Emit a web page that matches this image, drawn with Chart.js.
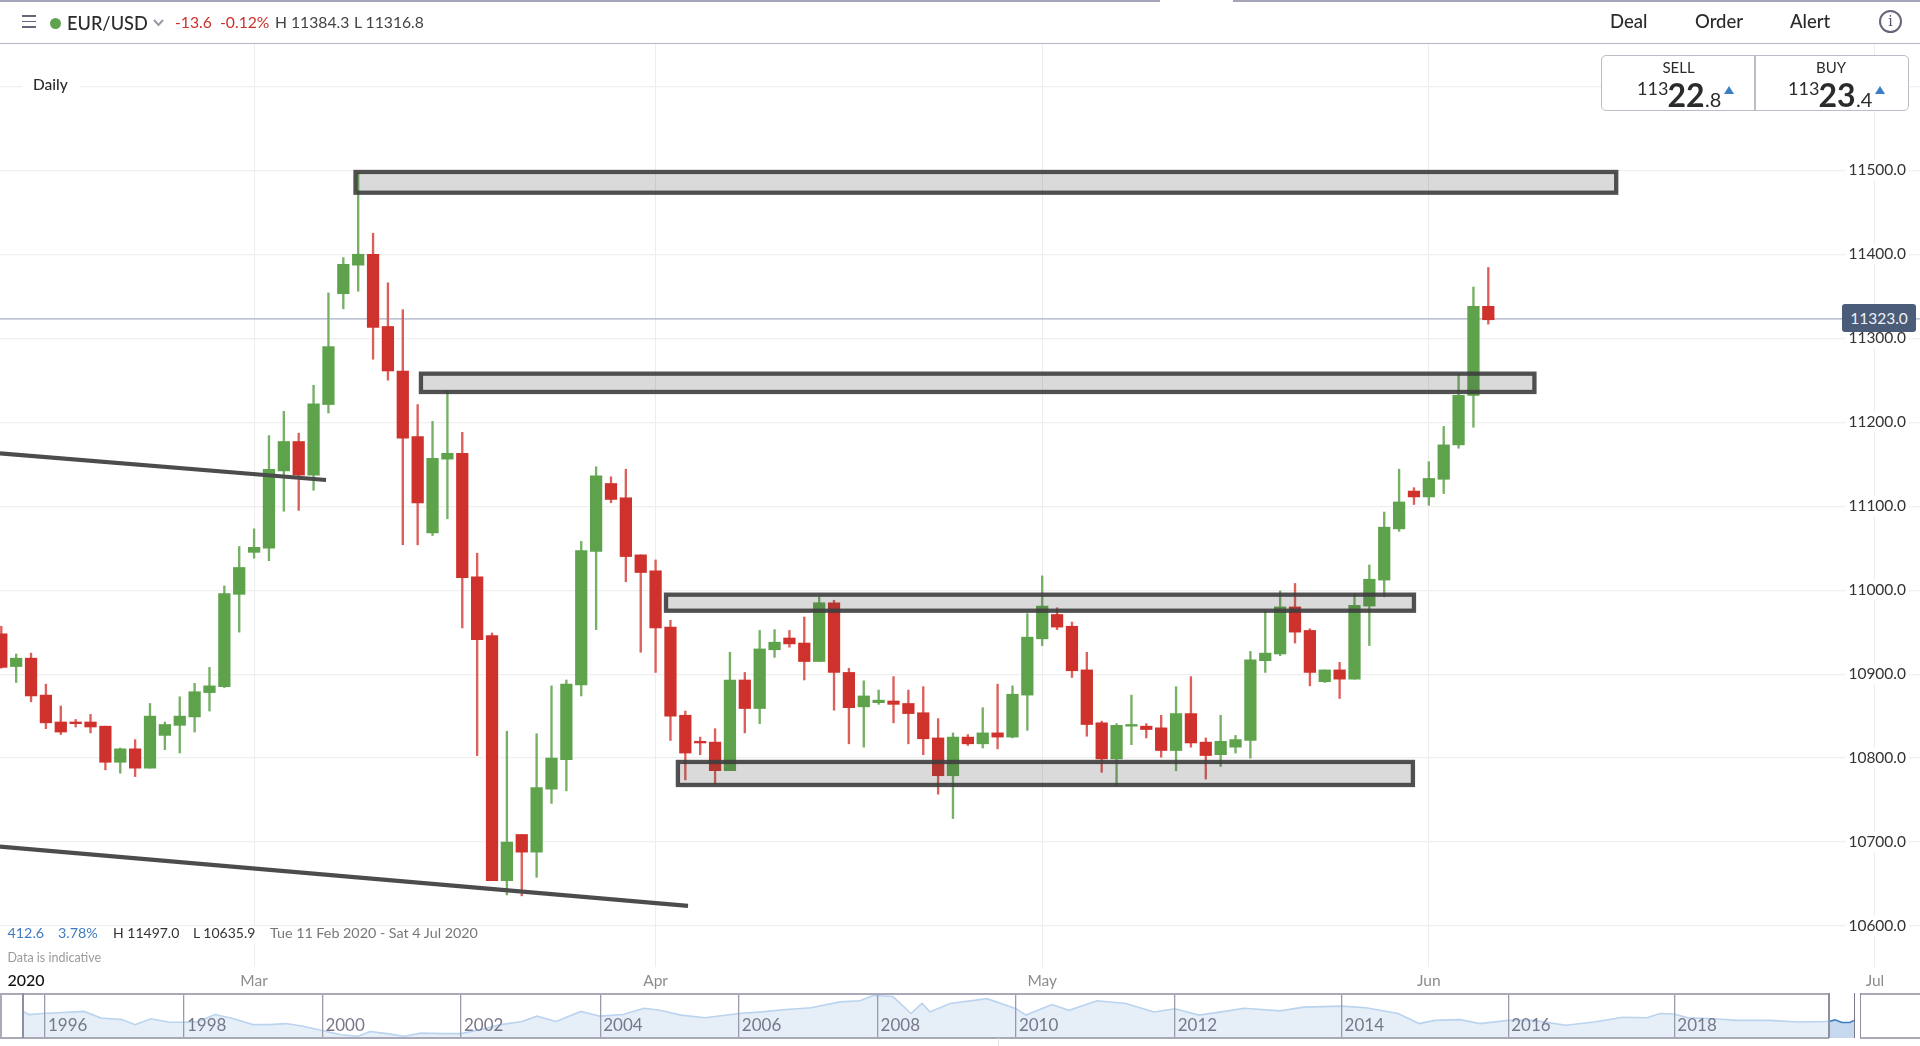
<!DOCTYPE html>
<html>
<head>
<meta charset="utf-8">
<title>EUR/USD Daily</title>
<script src="https://cdn.jsdelivr.net/npm/chart.js@4/dist/chart.umd.min.js"></script>
<style>
html,body{margin:0;padding:0;background:#fff;width:1920px;height:1046px;overflow:hidden;font-family:Lato,sans-serif;color:#2b2b2b}
canvas{position:absolute;left:0}
#main{top:0}
#nav{top:994px}
.t{position:absolute;white-space:nowrap;line-height:1}
.b{position:absolute}
</style>
</head>
<body>
<canvas id="main" width="1920" height="1046"></canvas>
<canvas id="nav" width="1920" height="44"></canvas>

<!-- header -->
<div class="b" style="left:0;top:0;width:1160px;height:2px;background:#a4a4ba"></div>
<div class="b" style="left:1233px;top:0;width:687px;height:2px;background:#a4a4ba"></div>
<div class="b" style="left:0;top:42.5px;width:1920px;height:1.5px;background:#b7b7c2"></div>
<div class="b" style="left:22px;top:15px;width:14px;height:1.5px;background:#66667a"></div>
<div class="b" style="left:22px;top:20.5px;width:14px;height:1.5px;background:#66667a"></div>
<div class="b" style="left:22px;top:26px;width:14px;height:1.5px;background:#66667a"></div>
<div class="b" style="left:49.5px;top:18px;width:11px;height:11px;border-radius:50%;background:#5ea34d"></div>
<div class="t" style="left:67px;top:13.5px;font-size:18.2px;font-weight:500">EUR/USD</div>
<svg class="b" style="left:153px;top:18px" width="11" height="9"><path d="M1 2 L5.5 7 L10 2" fill="none" stroke="#9a9aa8" stroke-width="2"/></svg>
<div class="t" style="left:175px;top:15px;font-size:15.7px;color:#c9322b">-13.6</div>
<div class="t" style="left:220px;top:15px;font-size:15.7px;color:#c9322b">-0.12%</div>
<div class="t" style="left:275px;top:15px;font-size:15.7px;color:#444">H 11384.3</div>
<div class="t" style="left:354px;top:15px;font-size:15.7px;color:#444">L 11316.8</div>
<div class="t" style="left:1610px;top:12px;font-size:18.5px;font-weight:500">Deal</div>
<div class="t" style="left:1695px;top:12px;font-size:18.5px;font-weight:500">Order</div>
<div class="t" style="left:1790px;top:12px;font-size:18.5px;font-weight:500">Alert</div>
<div class="t" style="left:1879px;top:10px;width:19px;height:19px;border:2px solid #66667a;border-radius:50%;text-align:center;font-family:'DejaVu Serif',serif;font-size:14px;line-height:19px;color:#55556a">i</div>

<div class="t" style="left:22px;top:76px;width:58px;height:18px;background:#fff"></div>
<div class="t" style="left:33px;top:77px;font-size:15.5px;font-weight:500">Daily</div>

<!-- sell / buy -->
<div class="b" style="left:1601px;top:55px;width:306px;height:54px;background:#fff;border:1.5px solid #bcbcc6;border-radius:5px"></div>
<div class="b" style="left:1754px;top:56px;width:2px;height:54px;background:#bcbcc6"></div>
<div class="t" style="left:1602px;width:153px;text-align:center;top:60px;font-size:15px">SELL</div>
<div class="t" style="left:1756px;width:150px;text-align:center;top:60px;font-size:15px">BUY</div>
<div class="t" style="left:1637px;top:79px;font-size:18px">113</div>
<div class="t" style="left:1667.5px;top:79px;font-size:32px;font-weight:700">22</div>
<div class="t" style="left:1705px;top:89px;font-size:20px">.8</div>
<div class="b" style="left:1723.5px;top:86px;width:0;height:0;border-left:5px solid transparent;border-right:5px solid transparent;border-bottom:8.5px solid #3a7fc1"></div>
<div class="t" style="left:1788px;top:79px;font-size:18px">113</div>
<div class="t" style="left:1818.5px;top:79px;font-size:32px;font-weight:700">23</div>
<div class="t" style="left:1856px;top:89px;font-size:20px">.4</div>
<div class="b" style="left:1875px;top:86px;width:0;height:0;border-left:5px solid transparent;border-right:5px solid transparent;border-bottom:8.5px solid #3a7fc1"></div>

<!-- last price tag -->
<div class="t" style="left:1842px;top:304px;width:74px;height:28px;line-height:28px;background:#4a5c78;border-radius:3px;color:#eef1f6;font-size:15.5px;text-align:center">11323.0</div>

<!-- info row -->
<div class="b" style="left:0;top:926px;width:481px;height:18px;background:#fff"></div>
<div class="t" style="left:7.5px;top:926px;font-size:14.3px;color:#3f7cc0">412.6</div>
<div class="t" style="left:58px;top:926px;font-size:14.3px;color:#3f7cc0">3.78%</div>
<div class="t" style="left:113px;top:926px;font-size:14px;color:#333">H 11497.0</div>
<div class="t" style="left:193px;top:926px;font-size:14px;color:#333">L 10635.9</div>
<div class="t" style="left:270px;top:926px;font-size:14.3px;color:#777">Tue 11 Feb 2020 - Sat 4 Jul 2020</div>
<div class="t" style="left:7.5px;top:952px;font-size:12.5px;color:#9a9a9a">Data is indicative</div>
<div class="t" style="left:7.5px;top:972px;font-size:16px;color:#111;font-weight:500">2020</div>

<!-- navigator frame -->
<div class="b" style="left:0;top:993px;width:1829px;height:1.5px;background:#a9a9b8"></div>
<div class="b" style="left:0;top:1037px;width:1829px;height:1.5px;background:#a9a9b8"></div>
<div class="b" style="left:1860px;top:993px;width:60px;height:1.5px;background:#a9a9b8"></div>
<div class="b" style="left:1860px;top:1037px;width:60px;height:1.5px;background:#a9a9b8"></div>
<div class="b" style="left:0;top:993px;width:1.5px;height:45px;background:#a9a9b8"></div>
<div class="b" style="left:22px;top:993px;width:1.5px;height:45px;background:#8f8fa0"></div>
<div class="b" style="left:1828px;top:993px;width:1.5px;height:45px;background:#8f8fa0"></div>
<div class="b" style="left:1853.5px;top:993px;width:1.5px;height:45px;background:#77778a"></div>
<div class="b" style="left:1859.5px;top:993px;width:1.5px;height:45px;background:#8f8fa0"></div>
<div class="b" style="left:998px;top:1038px;width:1px;height:8px;background:#e2e2e2"></div>

<script>
// Candle index 0 is the first visible session; month starts in the same index units
const monthIndex = [17, 44, 70, 96, 126];
const monthLabels = ['Mar', 'Apr', 'May', 'Jun', 'Jul'];
const priceTicks = [10600, 10700, 10800, 10900, 11000, 11100, 11200, 11300, 11400, 11500, 11600];
const lastPrice = 11323;

const opens = [10948,10909,10919,10875,10843,10843,10843,10838,10795,10811,10788,10827,10839,10849,10878,10885,10995,11045,11050,11142,11177,11137,11221,11353,11387,11400,11314,11261,11183,11068,11156,11163,11016,10946,10654,10709,10688,10763,10798,10887,11046,11127,11110,11042,11023,10956,10851,10820,10819,10785,10893,10859,10929,10943,10937,10915,10985,10902,10861,10866,10868,10865,10854,10824,10779,10825,10817,10830,10825,10875,10942,10971,10957,10905,10842,10799,10838,10838,10836,10809,10853,10819,10804,10813,10821,10916,10924,10980,10952,10891,10905,10894,10981,11012,11073,11118,11111,11132,11173,11232,11338];
const closes = [10908,10919,10874,10842,10831,10841,10837,10795,10811,10788,10850,10840,10850,10879,10886,10996,11027,11051,11144,11177,11137,11222,11290,11388,11400,11313,11261,11181,11104,11157,11163,11015,10941,10654,10700,10688,10765,10800,10888,11047,11136,11108,11040,11021,10955,10850,10806,10818,10785,10893,10859,10930,10938,10936,10915,10985,10902,10860,10874,10869,10864,10853,10823,10779,10825,10817,10830,10825,10876,10944,10981,10956,10904,10840,10799,10839,10840,10834,10809,10853,10818,10803,10820,10822,10917,10925,10980,10950,10902,10905,10894,10982,11013,11075,11105,11111,11133,11173,11232,11338,11322];
const highs = [10957,10924,10925,10888,10862,10846,10852,10838,10812,10822,10865,10843,10873,10889,10908,11005,11052,11073,11184,11213,11187,11244,11354,11396,11497,11425,11366,11334,11221,11201,11237,11188,11044,10949,10832,10709,10829,10886,10893,11058,11147,11135,11144,11042,11036,10964,10856,10825,10835,10926,10902,10952,10953,10952,10968,10992,10988,10907,10892,10881,10897,10881,10885,10847,10830,10828,10860,10888,10886,10972,11017,10979,10962,10926,10844,10841,10875,10841,10851,10885,10897,10824,10851,10827,10927,10975,10999,11008,10954,10905,10914,10996,11030,11093,11144,11122,11153,11195,11257,11361,11384.3];
const lows = [10907,10890,10867,10835,10828,10837,10830,10786,10782,10778,10788,10810,10806,10831,10856,10884,10950,11038,11035,11094,11095,11119,11211,11335,11356,11275,11250,11054,11054,11065,11085,10955,10803,10654,10637,10635.9,10658,10746,10761,10874,10953,11104,11010,10926,10902,10821,10774,10804,10769,10785,10830,10841,10920,10932,10893,10915,10857,10817,10813,10864,10842,10817,10804,10757,10728,10815,10812,10811,10824,10833,10934,10953,10896,10826,10783,10767,10816,10824,10801,10785,10813,10775,10790,10806,10800,10902,10922,10937,10886,10890,10871,10894,10934,10992,11070,11102,11101,11115,11169,11194,11316.8];

// Support / resistance zones: [first index, last index, low, high]
const zoneStart = [23.82, 28.22, 44.7, 45.5];
const zoneEnd = [108.6, 103.1, 95.0, 94.93];
const zoneLow = [11473.3, 11236, 10975.5, 10768];
const zoneHigh = [11498, 11257.8, 10994.6, 10795.4];

// Trend lines
const trendUpperX = [-0.09, 21.84];
const trendUpperY = [11163, 11131.2];
const trendLowerX = [-0.09, 46.18];
const trendLowerY = [10694.5, 10623.9];

// Navigator: history position along the strip and EUR/USD level
const navPos = [23,29,42,63,84,101,122,135,151,168,184,198,215,231,253,269,286,303,322,341,358,370,387,404,421,442,461,480,501,522,537,556,581,600,623,644,660,681,705,739,762,783,811,840,860,873,893,911,922,930,950,987,1016,1026,1052,1069,1097,1126,1154,1175,1199,1228,1244,1280,1304,1342,1366,1398,1419,1435,1460,1480,1508,1533,1566,1594,1623,1647,1660,1674,1688,1713,1737,1770,1798,1829];
const navVal = [1.30,1.24,1.26,1.28,1.30,1.175,1.145,1.05,1.16,1.10,1.095,1.11,1.24,1.175,1.05,1.05,1.07,1.02,0.94,0.86,0.83,0.92,0.88,0.83,0.89,0.88,0.88,0.955,1.05,1.11,1.21,1.11,1.30,1.21,1.24,1.36,1.32,1.23,1.18,1.26,1.29,1.33,1.37,1.48,1.50,1.60,1.58,1.26,1.45,1.29,1.45,1.54,1.35,1.23,1.43,1.32,1.50,1.45,1.29,1.35,1.23,1.31,1.36,1.31,1.38,1.40,1.37,1.26,1.07,1.13,1.145,1.07,1.13,1.13,1.04,1.10,1.19,1.18,1.26,1.25,1.18,1.16,1.13,1.13,1.10,1.11];
const navSelPos = [1829,1835,1842,1850,1854];
const navSelVal = [1.11,1.14,1.09,1.09,1.13];
const navYears = ['1996','1998','2000','2002','2004','2006','2008','2010','2012','2014','2016','2018'];
const navYearPos = [45,184,322.4,461,600.2,738.8,877.6,1015.9,1174.7,1341.6,1508.2,1674.3];

const GREEN = '#5ea34c', RED = '#cf322c', GREEN_W = '#75b065', RED_W = '#dd5f5a';
const xs = opens.map((_, i) => i);
const isUp = i => closes[i] >= opens[i];

const zonesPlugin = {
  id: 'zones',
  afterDatasetsDraw(chart) {
    const { ctx, scales: { x, y } } = chart;
    ctx.save();
    zoneStart.forEach((_, i) => {
      const l = x.getPixelForValue(zoneStart[i]), r = x.getPixelForValue(zoneEnd[i]);
      const t = y.getPixelForValue(zoneHigh[i]), b = y.getPixelForValue(zoneLow[i]);
      ctx.fillStyle = 'rgba(70,70,70,0.2)';
      ctx.fillRect(l, t, r - l, b - t);
      ctx.strokeStyle = 'rgba(62,62,62,0.9)';
      ctx.lineWidth = 4.3;
      ctx.strokeRect(l, t, r - l, b - t);
    });
    ctx.restore();
  }
};

new Chart(document.getElementById('main'), {
  type: 'bar',
  plugins: [zonesPlugin],
  data: {
    datasets: [
      { type: 'line', order: 10, data: [{ x: -0.09, y: lastPrice }, { x: 129.03, y: lastPrice }], borderColor: '#a9afc6', borderWidth: 1.3, pointRadius: 0 },
      { label: 'wick', order: 3, grouped: false, barThickness: 1.7, data: xs.map(i => ({ x: i, y: [lows[i], highs[i]] })),
        backgroundColor: xs.map(i => isUp(i) ? GREEN_W : RED_W) },
      { label: 'body', order: 2, grouped: false, barThickness: 11.6, data: xs.map(i => ({ x: i, y: [opens[i], closes[i]] })),
        backgroundColor: xs.map(i => isUp(i) ? GREEN : RED) },
      { type: 'line', order: 1, data: trendUpperX.map((v, i) => ({ x: v, y: trendUpperY[i] })), borderColor: '#4c4c4c', borderWidth: 4.2, pointRadius: 0 },
      { type: 'line', order: 1, data: trendLowerX.map((v, i) => ({ x: v, y: trendLowerY[i] })), borderColor: '#4c4c4c', borderWidth: 4.2, pointRadius: 0 }
    ]
  },
  options: {
    responsive: false, animation: false, devicePixelRatio: 1,
    layout: { padding: { top: 44, bottom: 53, left: 0, right: 0 } },
    plugins: { legend: { display: false }, tooltip: { enabled: false } },
    scales: {
      x: {
        type: 'linear', min: -0.0874, max: 129.03, offset: false,
        grid: { offset: false, color: '#ededed', lineWidth: 1, drawTicks: false },
        border: { display: false },
        afterBuildTicks: s => { s.ticks = monthIndex.map(v => ({ value: v })); },
        afterFit: s => { s.height = 26; },
        ticks: { autoSkip: false, maxRotation: 0, padding: 5, color: '#8c8c8c', font: { family: 'Lato', size: 15.5 },
          callback: (v) => monthLabels[monthIndex.indexOf(v)] }
      },
      y: {
        type: 'linear', position: 'right', min: 10551.2, max: 11650.4,
        grid: { color: '#efefef', lineWidth: 1.2, drawTicks: false },
        border: { display: false },
        afterBuildTicks: s => { s.ticks = priceTicks.map(v => ({ value: v })); },
        afterFit: s => { s.width = 0; },
        ticks: { mirror: true, padding: -14, color: '#333', font: { family: 'Lato', size: 15.5 },
          showLabelBackdrop: true, backdropColor: '#fff', backdropPadding: { x: 3, y: 1 },
          callback: v => v.toFixed(1) }
      }
    }
  }
});

new Chart(document.getElementById('nav'), {
  type: 'line',
  data: {
    datasets: [
      { data: navPos.map((p, i) => ({ x: p, y: navVal[i] })), borderColor: '#bad3ee', backgroundColor: '#e6eff8', borderWidth: 1.6, pointRadius: 0, fill: 'start', tension: 0 },
      { data: navSelPos.map((p, i) => ({ x: p, y: navSelVal[i] })), borderColor: '#3c7cc2', backgroundColor: '#c5d8ee', borderWidth: 1.6, pointRadius: 0, fill: 'start', tension: 0 }
    ]
  },
  options: {
    responsive: false, animation: false, devicePixelRatio: 1,
    layout: { padding: 0 },
    plugins: { legend: { display: false }, tooltip: { enabled: false } },
    scales: {
      x: {
        type: 'linear', min: 0, max: 1920,
        grid: { color: '#9a9aaa', lineWidth: 1.3, drawTicks: false, z: 1 },
        border: { display: false },
        afterBuildTicks: s => { s.ticks = navYearPos.map(v => ({ value: v })); },
        afterFit: s => { s.height = 0; },
        ticks: { autoSkip: false, maxRotation: 0, mirror: true, align: 'start', labelOffset: 3, padding: 2.6, z: 2, color: '#77778a',
          font: { family: 'Lato', size: 17 }, callback: v => navYears[navYearPos.indexOf(v)] }
      },
      y: { type: 'linear', min: 0.798, max: 1.628, display: false }
    }
  }
});
</script>
</body>
</html>
